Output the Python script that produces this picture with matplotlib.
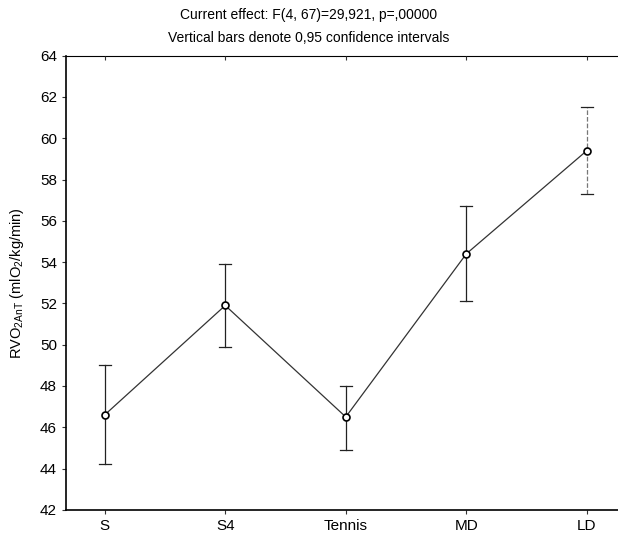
import matplotlib
matplotlib.use("Agg")
import matplotlib.pyplot as plt

plt.rcParams['font.family'] = ['Liberation Sans', 'DejaVu Sans']

categories = ["S", "S4", "Tennis", "MD", "LD"]
means = [46.6, 51.9, 46.5, 54.4, 59.4]
upper = [49.0, 53.9, 48.0, 56.7, 61.5]
lower = [44.2, 49.9, 44.9, 52.1, 57.3]
yticks = [42, 44, 46, 48, 50, 52, 54, 56, 58, 60, 62, 64]

fig = plt.figure(figsize=(6.18, 5.35), dpi=100)
ax = fig.add_axes([0.107, 0.047, 0.905, 0.849])

x = list(range(len(categories)))
ax.plot(x, means, color='#333333', lw=0.9, zorder=2)
for i in x:
    style = '--' if i == 4 else '-'
    col = '#777777' if i == 4 else '#222222'
    ax.plot([i, i], [lower[i], upper[i]], color=col, lw=0.9, ls=style, zorder=1)
    ax.plot([i - 0.05, i + 0.05], [upper[i]] * 2, color='#222222', lw=0.9)
    ax.plot([i - 0.05, i + 0.05], [lower[i]] * 2, color='#222222', lw=0.9)
ax.plot(x, means, ls='none', marker='o', ms=5, mfc='white', mec='black', mew=1.2, zorder=3)

ax.set_xlim(-0.32, 4.32)
ax.set_ylim(42, 64)
ax.set_yticks(yticks)
ax.set_xticks(x)
ax.set_xticklabels(categories)
ax.tick_params(axis='both', labelsize=11, length=3, width=0.8, color='#333333')
ax.spines['right'].set_visible(False)
ax.spines['top'].set_linestyle((0, (2, 1)))
ax.spines['top'].set_linewidth(0.8)
for s in ['left', 'bottom']:
    ax.spines[s].set_linewidth(1.2)
ax.set_ylabel(r"RVO$_{\mathregular{2AnT}}$ (mlO$_{\mathregular{2}}$/kg/min)", fontsize=10.5, labelpad=10)

top = ax.twiny()
top.set_xlim(ax.get_xlim())
top.set_xticks(x)
top.set_xticklabels([])
top.tick_params(axis='x', direction='in', length=3, width=0.8, color='#333333')
for s in top.spines.values():
    s.set_visible(False)

fig.text(0.5, 0.972, "Current effect: F(4, 67)=29,921, p=,00000", ha='center', va='center', fontsize=10)
fig.text(0.5, 0.929, "Vertical bars denote 0,95 confidence intervals", ha='center', va='center', fontsize=10)

fig.savefig("out.png", dpi=100)
